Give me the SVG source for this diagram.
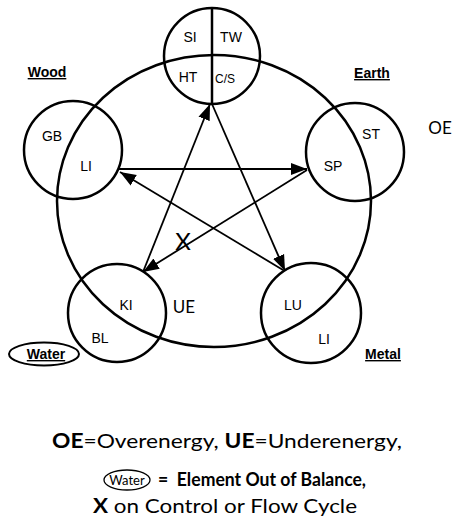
<svg xmlns="http://www.w3.org/2000/svg" width="454" height="519" viewBox="0 0 454 519">
<style>
.c{fill:none;stroke:#000;stroke-width:2.5}
.a{fill:none;stroke:#000;stroke-width:1.8}
.l{font-family:"Liberation Sans",Arial,sans-serif;font-size:14px;fill:#000;text-anchor:middle}
.h{font-family:"Liberation Sans",Arial,sans-serif;font-size:14px;font-weight:bold;fill:#000;text-anchor:middle;text-decoration:underline}
.k{font-family:Lato,"Open Sans",sans-serif;fill:#000;text-anchor:middle}
.b{font-family:Lato,"Open Sans",sans-serif;fill:#000;font-size:20px}
</style>
<defs>
<marker id="ah" markerUnits="userSpaceOnUse" markerWidth="17" markerHeight="14" refX="16" refY="7" orient="auto">
<path d="M0,1 L16,7 L0,13 Z" fill="#000"/>
</marker>
</defs>
<rect width="454" height="519" fill="#fff"/>
<g id="cycle">
<ellipse class="c" cx="214" cy="201" rx="157" ry="146"/>
</g>
<g id="fire">
<circle class="c" cx="212" cy="56" r="48"/>
<line class="c" x1="212" y1="8" x2="212" y2="104"/>
<text class="l" x="190" y="42">SI</text>
<text class="l" x="231" y="42">TW</text>
<text class="l" x="188" y="82">HT</text>
<text class="l" x="225" y="83" style="font-size:12px">C/S</text>
</g>
<g id="wood">
<circle class="c" cx="73" cy="150" r="49"/>
<text class="l" x="52" y="141">GB</text>
<text class="l" x="86" y="171">LI</text>
<text class="h" x="47" y="77">Wood</text>
</g>
<g id="earth">
<circle class="c" cx="355" cy="152" r="49"/>
<text class="l" x="371" y="139">ST</text>
<text class="l" x="333" y="171">SP</text>
<text class="h" x="372" y="78">Earth</text>
<text class="k" x="440" y="134" style="font-size:17px">OE</text>
</g>
<g id="water">
<circle class="c" cx="117" cy="313" r="49"/>
<text class="l" x="126" y="310">KI</text>
<text class="l" x="100" y="343">BL</text>
<ellipse class="c" cx="44" cy="354" rx="35" ry="11.5" style="stroke-width:2"/>
<text class="h" x="46" y="359">Water</text>
<text class="k" x="184" y="313" style="font-size:17px">UE</text>
</g>
<g id="metal">
<circle class="c" cx="311" cy="313" r="50"/>
<text class="l" x="293" y="310">LU</text>
<text class="l" x="324" y="344">LI</text>
<text class="h" x="383" y="359">Metal</text>
</g>
<g id="connectors">
<line class="a" x1="118" y1="169" x2="307" y2="169" marker-end="url(#ah)"/>
<line class="a" x1="283" y1="270" x2="120" y2="172" marker-end="url(#ah)"/>
<line class="a" x1="212" y1="104" x2="285" y2="271" marker-end="url(#ah)"/>
<line class="a" x1="143" y1="272" x2="210" y2="104" marker-end="url(#ah)"/>
<line class="a" x1="307" y1="170" x2="143" y2="272" marker-end="url(#ah)"/>
<text class="k" x="183" y="250" style="font-size:24px">X</text>
</g>
<g id="legend">
<text class="b" x="52" y="448" textLength="350" lengthAdjust="spacingAndGlyphs"><tspan font-weight="bold">OE</tspan>=Overenergy, <tspan font-weight="bold">UE</tspan>=Underenergy,</text>
<ellipse cx="127" cy="480" rx="23" ry="10" fill="none" stroke="#000" stroke-width="1.3"/>
<text class="k" x="127" y="484.5" style="font-size:13px">Water</text>
<text class="b" x="158" y="486" font-weight="bold" style="font-size:18.5px" textLength="208" lengthAdjust="spacingAndGlyphs">=&#160; Element Out of Balance,</text>
<text class="b" x="93" y="513" textLength="264" lengthAdjust="spacingAndGlyphs"><tspan font-weight="bold">X</tspan> on Control or Flow Cycle</text>
</g>
</svg>
